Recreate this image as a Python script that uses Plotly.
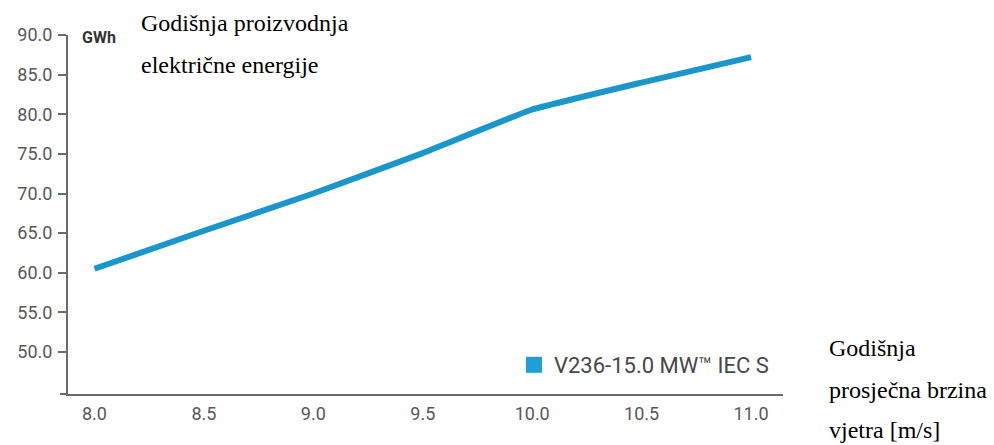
import plotly.graph_objects as go

wind_speed = [8.0, 8.5, 9.0, 9.5, 10.0, 10.5, 11.0]
energy_gwh = [60.5, 65.3, 70.0, 75.1, 80.6, 84.0, 87.2]
y_ticks = [50, 55, 60, 65, 70, 75, 80, 85, 90]
y_tick_labels = ["50.0", "55.0", "60.0", "65.0", "70.0", "75.0", "80.0", "85.0", "90.0"]
x_ticks = [8.0, 8.5, 9.0, 9.5, 10.0, 10.5, 11.0]
x_tick_labels = ["8.0", "8.5", "9.0", "9.5", "10.0", "10.5", "11.0"]
series_name = "V236-15.0 MW™ IEC S"

line_color = "#1b96cc"
axis_color = "#6a6a6a"
tick_font = dict(family="Roboto, sans-serif", size=18, color="#575757")

L, R, T, B = 68, 211, 35, 51
PW, PH = 994 - L - R, 445 - T - B

fig = go.Figure()
fig.add_trace(go.Scatter(
    x=wind_speed, y=energy_gwh, mode="lines",
    line=dict(color=line_color, width=6, shape="spline", smoothing=0.3),
    showlegend=False, hoverinfo="x+y",
))
# legend entry (square swatch)
fig.add_trace(go.Scatter(
    x=[None], y=[None], mode="markers", name=series_name,
    marker=dict(symbol="square", size=16, color="#1e9fd6"),
    showlegend=True,
))

fig.update_layout(
    width=994, height=445,
    margin=dict(l=L, r=R, t=T, b=B),
    paper_bgcolor="white", plot_bgcolor="white",
    showlegend=True,
    legend=dict(
        x=(514 - L) / PW, y=(394 - 365) / PH, xanchor="left", yanchor="middle",
        font=dict(family="Roboto, sans-serif", size=22, color="#474747"),
        bgcolor="rgba(0,0,0,0)", itemwidth=30,
    ),
    xaxis=dict(
        range=[7.879, 11.146], tickvals=x_ticks, ticktext=x_tick_labels,
        showgrid=False, zeroline=False,
        showline=True, linecolor=axis_color, linewidth=2,
        ticks="", tickfont=tick_font, ticklabelstandoff=2,
    ),
    yaxis=dict(
        range=[44.7, 90], tickvals=y_ticks, ticktext=y_tick_labels,
        showgrid=False, zeroline=False,
        showline=True, linecolor=axis_color, linewidth=2,
        ticks="outside", ticklen=8, tickcolor=axis_color, tickwidth=1.5,
        tickfont=tick_font, ticklabelstandoff=2,
    ),
)

# small overhang of the x axis line left of the y axis
fig.add_shape(type="line", xref="paper", yref="paper", x0=-8 / PW, x1=0, y0=0, y1=0,
              line=dict(color=axis_color, width=2))

fig.add_annotation(
    xref="paper", yref="paper", x=(80 - L) / PW, y=(394 - 38) / PH, xanchor="left", yanchor="middle",
    text="<b>GWh</b>", showarrow=False,
    font=dict(family="Roboto, sans-serif", size=16, color="#333333"),
)
serif = dict(family="Liberation Serif, Times New Roman, serif", size=24, color="black")
fig.add_annotation(xref="paper", yref="paper", x=(139 - L) / PW, y=(394 - 23) / PH,
                   xanchor="left", yanchor="middle", text="Godišnja proizvodnja",
                   showarrow=False, font=serif)
fig.add_annotation(xref="paper", yref="paper", x=(139 - L) / PW, y=(394 - 65) / PH,
                   xanchor="left", yanchor="middle", text="električne energije",
                   showarrow=False, font=serif)
for txt, ypix in [("Godišnja", 348), ("prosječna brzina", 390), ("vjetra [m/s]", 430)]:
    fig.add_annotation(xref="paper", yref="paper", x=(827 - L) / PW, y=(394 - ypix) / PH,
                       xanchor="left", yanchor="middle", text=txt,
                       showarrow=False, font=serif)

fig.write_html("out.html", config={"displayModeBar": False},
               post_script="document.body.style.margin='0px';")
